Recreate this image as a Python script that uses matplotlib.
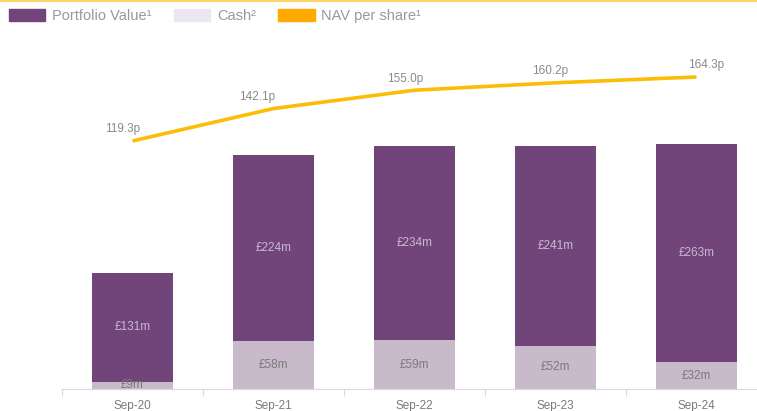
import matplotlib
matplotlib.use('Agg')
import matplotlib.pyplot as plt
from matplotlib.patches import Patch
from matplotlib.lines import Line2D

# data
periods = ['Sep-20', 'Sep-21', 'Sep-22', 'Sep-23', 'Sep-24']
cash = [9, 58, 59, 52, 32]
portfolio = [131, 224, 234, 241, 263]
nav = [119.3, 142.1, 155.0, 160.2, 164.3]

cPort = '#71457a'
cCash = '#c9bacb'
cNav = '#fbbd08'
grey = '#8a8a8a'

plt.rcParams['font.family'] = ['Liberation Sans', 'DejaVu Sans']

fig = plt.figure(figsize=(7.57, 4.11), dpi=100)
ax = fig.add_axes([62/757, 22/411, 705/757, 349/411])
x = list(range(len(periods)))

ax.bar(x, cash, width=0.57, color=cCash)
ax.bar(x, portfolio, width=0.57, bottom=cash, color=cPort)
for i in x:
    ax.text(i, cash[i]/2, '£%dm' % cash[i], ha='center', va='center',
            fontsize=8.5, color='#7a7a7a')
    ax.text(i, cash[i] + portfolio[i]/2, '£%dm' % portfolio[i], ha='center',
            va='center', fontsize=8.5, color='#cbb8d2')

ax.set_xlim(-0.5, 4.5)
ax.set_ylim(0, 421)
ax.set_yticks([])
for s in ['top', 'right', 'left']:
    ax.spines[s].set_visible(False)
ax.spines['bottom'].set_color('#e2d4e6')
ax.set_xticks([i + 0.5 for i in range(-1, 5)], minor=False)
ax.set_xticklabels([])
ax.tick_params(axis='x', which='major', length=5, color='#e2d4e6', direction='out')
ax.set_xticks(x, minor=True)
ax.set_xticklabels(periods, minor=True)
ax.tick_params(axis='x', which='minor', length=0, pad=8, labelsize=8.5, labelcolor='#7a7a7a')

ax2 = ax.twinx()
ax2.plot(x, nav, color=cNav, lw=2.6, solid_capstyle='butt')
ax2.set_ylim(-55.1, 190.3)
ax2.axis('off')
# label nudges in points
dx = [-7, -12, -7, -4, 7]
for i in x:
    ax2.annotate('%.1fp' % nav[i], (i, nav[i]), xytext=(dx[i], 4), textcoords='offset points',
                 ha='center', va='bottom', fontsize=8.5, color=grey)

handles = [Patch(color=cPort), Patch(color='#ebe6f0'), Patch(color='#ffaa00')]
labels = ['Portfolio Value¹', 'Cash²', 'NAV per share¹']
fig.legend(handles, labels, loc='upper left', bbox_to_anchor=(0.0, 1.0), ncol=3,
           frameon=False, fontsize=10.5, handlelength=2.5, handleheight=0.9,
           handletextpad=0.45, columnspacing=1.55, borderaxespad=0.3, borderpad=0.3,
           labelcolor='#999999')

fig.add_artist(Line2D([0, 1], [0.997, 0.997], transform=fig.transFigure,
                      color='#fdd36a', lw=1.5))

fig.savefig('out.png', dpi=100)
